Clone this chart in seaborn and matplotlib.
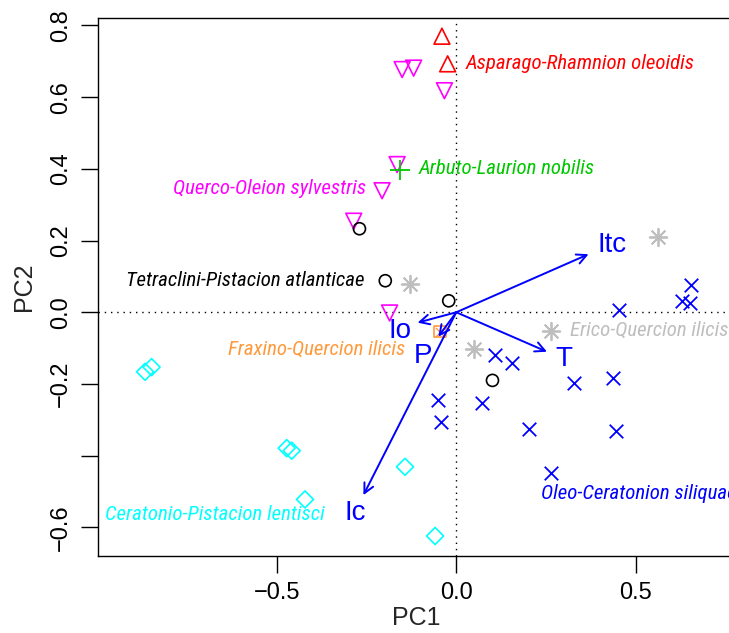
import matplotlib
matplotlib.use("Agg")
import matplotlib.pyplot as plt
from matplotlib import font_manager
import pandas as pd
import seaborn as sns

# --- site scores on the first two axes, one list pair per alliance ---
asparago_x = [-0.040, -0.024]
asparago_y = [0.770, 0.693]

querco_x = [-0.151, -0.119, -0.033, -0.165, -0.207, -0.286, -0.186]
querco_y = [0.677, 0.681, 0.618, 0.412, 0.339, 0.254, -0.002]

arbuto_x = [-0.157]
arbuto_y = [0.398]

tetraclini_x = [-0.270, -0.198, -0.021, 0.101]
tetraclini_y = [0.233, 0.088, 0.032, -0.190]

erico_x = [-0.128, 0.050, 0.264, 0.564]
erico_y = [0.079, -0.103, -0.051, 0.209]

fraxino_x = [-0.045]
fraxino_y = [-0.054]

oleo_x = [0.109, 0.155, 0.072, -0.052, -0.043, 0.329, 0.436, 0.202,
          0.445, 0.264, 0.453, 0.655, 0.630, 0.653]
oleo_y = [-0.119, -0.142, -0.252, -0.245, -0.305, -0.196, -0.182, -0.326,
          -0.331, -0.449, 0.006, 0.076, 0.032, 0.027]

ceratonio_x = [-0.868, -0.850, -0.473, -0.459, -0.143, -0.422, -0.059]
ceratonio_y = [-0.166, -0.153, -0.379, -0.386, -0.431, -0.522, -0.624]

# --- environmental vectors (arrow tips) ---
vec_names = ["Itc", "Io", "P", "T", "Ic"]
vec_x = [0.369, -0.108, -0.050, 0.253, -0.259]
vec_y = [0.162, -0.029, -0.068, -0.110, -0.510]
vec_lab_x = [0.434, -0.158, -0.092, 0.299, -0.282]
vec_lab_y = [0.188, -0.052, -0.123, -0.129, -0.561]

# --- alliance names and where they are written ---
alliances = ["Asparago-Rhamnion oleoidis", "Querco-Oleion sylvestris",
             "Arbuto-Laurion nobilis", "Tetraclini-Pistacion atlanticae",
             "Erico-Quercion ilicis", "Fraxino-Quercion ilicis",
             "Oleo-Ceratonion siliquae", "Ceratonio-Pistacion lentisci"]
name_x = [0.026, -0.251, -0.104, -0.256, 0.318, -0.143, 0.236, -0.980]
name_y = [0.695, 0.345, 0.402, 0.088, -0.049, -0.104, -0.505, -0.565]
name_ha = ["left", "right", "left", "right", "left", "right", "left", "left"]

xticks = [-0.5, 0.0, 0.5]
xtick_labels = ["\u22120.5", "0.0", "0.5"]
yticks = [-0.6, -0.4, -0.2, 0.0, 0.2, 0.4, 0.6, 0.8]
ytick_labels = ["\u22120.6", "", "\u22120.2", "0.0", "0.2", "0.4", "0.6", "0.8"]

groups = [
    (alliances[0], asparago_x, asparago_y),
    (alliances[1], querco_x, querco_y),
    (alliances[2], arbuto_x, arbuto_y),
    (alliances[3], tetraclini_x, tetraclini_y),
    (alliances[4], erico_x, erico_y),
    (alliances[5], fraxino_x, fraxino_y),
    (alliances[6], oleo_x, oleo_y),
    (alliances[7], ceratonio_x, ceratonio_y),
]
frames = [pd.DataFrame({"PC1": gx, "PC2": gy, "alliance": name})
          for name, gx, gy in groups]
sites = pd.concat(frames, ignore_index=True)

# marker, colour, size, outline only?
styles = {
    alliances[0]: ("^", "#FF0000", 130, True),
    alliances[1]: ("v", "#FF00FF", 130, True),
    alliances[2]: ("+", "#00C800", 200, False),
    alliances[3]: ("o", "#000000", 75, True),
    alliances[4]: ((8, 2, 0), "#BEBEBE", 160, False),
    alliances[5]: ("s", "#FF9A3C", 70, True),
    alliances[6]: ("x", "#0000FF", 95, False),
    alliances[7]: ("D", "#00FFFF", 75, True),
}

# the names are set in a narrow italic face; use one if there is any
narrow = None
available = {(f.name, f.stretch) for f in font_manager.fontManager.ttflist}
for fam in ["Liberation Sans Narrow", "Roboto Condensed", "Open Sans Condensed"]:
    if any(n == fam for n, s in available):
        narrow = fam
        break
if narrow is None and any(n == "DejaVu Sans" and s == "condensed" for n, s in available):
    name_font = dict(family=["DejaVu Sans"], fontstretch="condensed", fontsize=14)
elif narrow is not None:
    name_font = dict(family=[narrow, "DejaVu Sans"], fontsize=15)
else:
    name_font = dict(family=["Liberation Sans", "DejaVu Sans"], fontsize=12.6)

sns.set_style("ticks")
plt.rcParams["font.family"] = ["Liberation Sans", "DejaVu Sans"]

fig = plt.figure(figsize=(7.29, 6.33), dpi=100)
ax = fig.add_axes([0.1348, 0.1221, 0.872, 0.849])

# dotted reference lines through the origin
ax.axhline(0, color="black", lw=1.0, ls=(0, (1, 3.5)), zorder=1)
ax.axvline(0, color="black", lw=1.0, ls=(0, (1, 3.5)), zorder=1)

for name in alliances:
    sub = sites[sites["alliance"] == name]
    marker, col, size, outline = styles[name]
    if outline:
        sns.scatterplot(data=sub, x="PC1", y="PC2", marker=marker, s=size,
                        facecolor="none", edgecolor=col, linewidth=1.2,
                        ax=ax, zorder=3, legend=False)
    else:
        sns.scatterplot(data=sub, x="PC1", y="PC2", marker=marker, s=size,
                        color=col, linewidth=1.3, ax=ax, zorder=3,
                        legend=False)
    if name == alliances[5]:
        # square with a cross inside
        sns.scatterplot(data=sub, x="PC1", y="PC2", marker="x", s=45,
                        color=col, linewidth=1.0, ax=ax, zorder=3,
                        legend=False)

# vectors
for nm, tx, ty, lx, ly in zip(vec_names, vec_x, vec_y, vec_lab_x, vec_lab_y):
    ax.annotate("", xy=(tx, ty), xytext=(0, 0),
                arrowprops=dict(arrowstyle="->,head_length=0.7,head_width=0.35",
                                color="#0000FF", lw=1.4, shrinkA=0, shrinkB=0),
                zorder=4)
    ax.text(lx, ly, nm, color="#0000FF", fontsize=20, ha="center",
            va="center", zorder=5)

# alliance names
for nm, nx, ny, ha in zip(alliances, name_x, name_y, name_ha):
    ax.text(nx, ny, nm, color=styles[nm][1], style="italic",
            ha=ha, va="center", zorder=5, **name_font)

ax.set_xlim(-0.9986, 0.7746)
ax.set_ylim(-0.679, 0.820)
ax.set_xticks(xticks)
ax.set_xticklabels(xtick_labels)
ax.set_yticks(yticks)
ax.set_yticklabels(ytick_labels, rotation=90, va="center")
ax.tick_params(direction="out", length=12, width=1.0, pad=7,
               labelsize=17, colors="black")

for side in ["left", "bottom", "top", "right"]:
    ax.spines[side].set_linewidth(1.0)
    ax.spines[side].set_color("black")

ax.set_xlabel("PC1", fontsize=18)
ax.set_ylabel("PC2", fontsize=18)
ax.xaxis.label.set_va("center")
ax.yaxis.label.set_va("center")
ax.xaxis.set_label_coords(0.5, (555.7 - 618) / 537.4)
ax.yaxis.set_label_coords((24 - 98.3) / 635.7, 0.5)

fig.savefig("out.png", dpi=100)
